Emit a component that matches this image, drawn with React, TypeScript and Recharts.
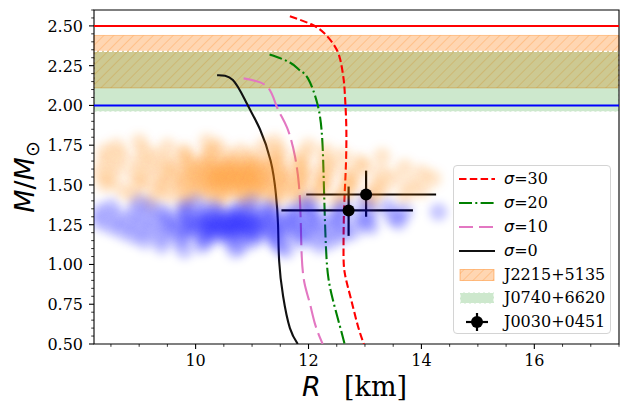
import React from "react";
import {
  ComposedChart,
  XAxis,
  YAxis,
  Line,
  Scatter,
  ErrorBar,
  ReferenceArea,
  ReferenceLine,
} from "recharts";

// axes
const xDomain = [8.2, 17.5];
const yDomain = [0.5, 2.6];
const xMajorTicks = [10, 12, 14, 16];
const xMinorTicks = [8.5, 9, 9.5, 10.5, 11, 11.5, 12.5, 13, 13.5, 14.5, 15, 15.5, 16.5, 17, 17.5];
const yMajorTicks = [0.5, 0.75, 1.0, 1.25, 1.5, 1.75, 2.0, 2.25, 2.5];
const yMinorTicks = [
  0.55, 0.6, 0.65, 0.7, 0.8, 0.85, 0.9, 0.95, 1.05, 1.1, 1.15, 1.2, 1.3, 1.35, 1.4, 1.45,
  1.55, 1.6, 1.65, 1.7, 1.8, 1.85, 1.9, 1.95, 2.05, 2.1, 2.15, 2.2, 2.3, 2.35, 2.4, 2.45, 2.55, 2.6,
];

// mass constraints
const j2215Band = [2.11, 2.44];
const j0740Band = [1.96, 2.34];
const maxMassLines = [2.5, 2.0];

// M-R curves, top (max mass) to bottom
const sigma30 = [
  { r: 11.67, m: 2.56 }, { r: 12.05, m: 2.51 }, { r: 12.29, m: 2.45 }, { r: 12.5, m: 2.35 },
  { r: 12.59, m: 2.24 }, { r: 12.63, m: 2.14 }, { r: 12.65, m: 2.03 }, { r: 12.67, m: 1.85 },
  { r: 12.66, m: 1.6 }, { r: 12.63, m: 1.35 }, { r: 12.62, m: 1.1 }, { r: 12.64, m: 0.95 },
  { r: 12.74, m: 0.8 }, { r: 12.87, m: 0.62 }, { r: 12.98, m: 0.5 },
];
const sigma20 = [
  { r: 11.31, m: 2.32 }, { r: 11.67, m: 2.27 }, { r: 11.85, m: 2.22 }, { r: 11.99, m: 2.17 },
  { r: 12.15, m: 2.02 }, { r: 12.23, m: 1.85 }, { r: 12.26, m: 1.65 }, { r: 12.28, m: 1.4 },
  { r: 12.31, m: 1.1 }, { r: 12.35, m: 0.92 }, { r: 12.43, m: 0.78 }, { r: 12.55, m: 0.62 },
  { r: 12.64, m: 0.5 },
];
const sigma10 = [
  { r: 10.85, m: 2.17 }, { r: 11.26, m: 2.12 }, { r: 11.44, m: 1.99 }, { r: 11.62, m: 1.86 },
  { r: 11.76, m: 1.68 }, { r: 11.83, m: 1.5 }, { r: 11.86, m: 1.3 }, { r: 11.88, m: 1.05 },
  { r: 11.93, m: 0.88 }, { r: 12.02, m: 0.76 }, { r: 12.12, m: 0.62 }, { r: 12.25, m: 0.5 },
];
const sigma0 = [
  { r: 10.38, m: 2.19 }, { r: 10.66, m: 2.16 }, { r: 10.91, m: 2.01 }, { r: 11.14, m: 1.85 },
  { r: 11.33, m: 1.65 }, { r: 11.42, m: 1.45 }, { r: 11.46, m: 1.25 }, { r: 11.48, m: 1.02 },
  { r: 11.55, m: 0.8 }, { r: 11.67, m: 0.6 }, { r: 11.81, m: 0.5 },
];

// J0030+0451 (NICER)
const j0030 = [
  { r: 12.71, m: 1.34, rErr: [1.19, 1.14], mErr: [0.16, 0.15] },
  { r: 13.02, m: 1.44, rErr: [1.06, 1.24], mErr: [0.14, 0.15] },
];

// posterior samples, rows of radii at a given mass
const orangeRows: [number, number[]][] = [
  [1.77, [9.0, 10.2, 11.4]],
  [1.74, [8.6, 9.5, 10.4, 11.2, 12.0]],
  [1.71, [8.4, 9.1, 9.8, 10.3, 10.8, 11.5, 12.3]],
  [1.68, [8.7, 9.3, 9.8, 10.2, 10.6, 11.0, 11.4, 11.9, 12.6, 13.3]],
  [1.645, [8.4, 9.0, 9.5, 9.9, 10.15, 10.4, 10.65, 10.9, 11.15, 11.4, 11.8, 12.3, 12.9]],
  [1.61, [8.6, 9.2, 9.6, 9.9, 10.1, 10.3, 10.45, 10.6, 10.75, 10.9, 11.05, 11.25, 11.5, 11.9, 12.4, 13.0, 13.7]],
  [1.575, [8.3, 8.9, 9.4, 9.75, 10.0, 10.2, 10.35, 10.5, 10.65, 10.8, 10.95, 11.1, 11.3, 11.55, 11.85, 12.2, 12.7, 13.3, 14.0]],
  [1.54, [8.5, 9.1, 9.55, 9.85, 10.05, 10.25, 10.4, 10.55, 10.7, 10.85, 11.0, 11.15, 11.35, 11.6, 11.9, 12.3, 12.8, 13.5, 14.2]],
  [1.505, [8.4, 9.0, 9.4, 9.75, 10.0, 10.2, 10.35, 10.5, 10.65, 10.8, 10.95, 11.1, 11.3, 11.55, 11.85, 12.25, 12.7, 13.2, 13.8]],
  [1.47, [8.7, 9.3, 9.7, 10.0, 10.25, 10.45, 10.65, 10.85, 11.05, 11.25, 11.5, 11.8, 12.2, 12.7, 13.3, 14.0]],
  [1.435, [8.9, 9.5, 9.9, 10.2, 10.5, 10.8, 11.1, 11.4, 11.7, 12.1, 12.6, 13.1, 13.7]],
  [1.4, [9.2, 9.8, 10.4, 10.9, 11.4, 11.9, 12.5, 13.1]],
];
const blueRows: [number, number[]][] = [
  [1.39, [9.0, 10.0, 11.0, 12.0, 13.0]],
  [1.36, [8.5, 9.2, 9.8, 10.3, 10.8, 11.3, 11.9, 12.6, 13.4]],
  [1.33, [8.3, 8.9, 9.4, 9.8, 10.1, 10.4, 10.7, 11.0, 11.3, 11.7, 12.1, 12.6, 13.1, 13.7, 14.3]],
  [1.3, [8.6, 9.1, 9.5, 9.85, 10.1, 10.3, 10.5, 10.65, 10.8, 10.95, 11.15, 11.4, 11.7, 12.0, 12.4, 12.9, 13.5]],
  [1.27, [8.3, 8.8, 9.3, 9.65, 9.9, 10.1, 10.25, 10.4, 10.55, 10.7, 10.85, 11.0, 11.2, 11.45, 11.75, 12.1, 12.5, 13.0, 13.6]],
  [1.24, [8.5, 9.0, 9.5, 9.8, 10.0, 10.2, 10.35, 10.5, 10.65, 10.8, 10.95, 11.1, 11.3, 11.55, 11.85, 12.2, 12.6, 13.1]],
  [1.21, [8.7, 9.2, 9.6, 9.9, 10.15, 10.3, 10.45, 10.6, 10.75, 10.9, 11.1, 11.35, 11.6, 11.95, 12.35, 12.8]],
  [1.18, [8.9, 9.4, 9.8, 10.1, 10.35, 10.6, 10.85, 11.1, 11.4, 11.75, 12.1, 12.6]],
  [1.15, [9.1, 9.7, 10.2, 10.6, 11.0, 11.4, 11.9, 12.4]],
  [1.12, [9.4, 10.1, 10.8, 11.5, 12.2]],
  [1.09, [9.8, 10.7, 11.6]],
];

const orangeCloud = orangeRows.flatMap(([m, rs]) => rs.map((r) => ({ r, m })));
const blueCloud = blueRows.flatMap(([m, rs]) => rs.map((r) => ({ r, m })));

const xTicks = [...xMajorTicks, ...xMinorTicks].sort((a, b) => a - b);
const yTicks = [...yMajorTicks, ...yMinorTicks].sort((a, b) => a - b);

const SERIF = "'DejaVu Serif', serif";
const SANS = "'DejaVu Sans', sans-serif";

const isMajor = (list: number[], v: number) => list.some((t) => Math.abs(t - v) < 1e-6);

const XTick = (props: any) => {
  const { x, y, payload } = props;
  const major = isMajor(xMajorTicks, payload.value);
  return (
    <g>
      <line x1={x} x2={x} y1={y} y2={y + (major ? 5 : 2.8)} stroke="#000" strokeWidth={major ? 1.1 : 0.8} />
      {major && (
        <text x={x} y={y + 22} textAnchor="middle" fontFamily={SERIF} fontSize={16} fill="#000">
          {payload.value}
        </text>
      )}
    </g>
  );
};

const YTick = (props: any) => {
  const { x, y, payload } = props;
  const major = isMajor(yMajorTicks, payload.value);
  return (
    <g>
      <line x1={x - (major ? 5 : 2.8)} x2={x} y1={y} y2={y} stroke="#000" strokeWidth={major ? 1.1 : 0.8} />
      {major && (
        <text x={x - 11} y={y + 6} textAnchor="end" fontFamily={SERIF} fontSize={16} fill="#000">
          {payload.value.toFixed(2)}
        </text>
      )}
    </g>
  );
};

const blob = (color: string, alpha: number) => (p: any) =>
  <circle cx={p.cx} cy={p.cy} r={9} fill={color} fillOpacity={alpha} filter="url(#soft)" />;

const legendRows = [
  { key: "s30", label: "30" },
  { key: "s20", label: "20" },
  { key: "s10", label: "10" },
  { key: "s0", label: "0" },
  { key: "j2215", label: "J2215+5135" },
  { key: "j0740", label: "J0740+6620" },
  { key: "j0030", label: "J0030+0451" },
];

function Handle({ kind }: { kind: string }) {
  const w = 36;
  const h = 22;
  const mid = h / 2;
  let el: React.ReactNode = null;
  if (kind === "s30") el = <line x1={0} x2={w} y1={mid} y2={mid} stroke="#ff0000" strokeWidth={2.1} strokeDasharray="7.5 3.3" />;
  if (kind === "s20") el = <line x1={0} x2={w} y1={mid} y2={mid} stroke="#008000" strokeWidth={2.1} strokeDasharray="13 3.3 2 3.3" />;
  if (kind === "s10") el = <line x1={0} x2={w} y1={mid} y2={mid} stroke="#e377c2" strokeWidth={2.1} strokeDasharray="14 6" />;
  if (kind === "s0") el = <line x1={0} x2={w} y1={mid} y2={mid} stroke="#111" strokeWidth={2.1} />;
  if (kind === "j2215")
    el = (
      <g>
        <rect x={1} y={mid - 5.5} width={w - 2} height={11} fill="#ff7f0e" fillOpacity={0.32} />
        <rect x={1} y={mid - 5.5} width={w - 2} height={11} fill="url(#hatchLegend)" stroke="#ff7f0e" strokeOpacity={0.45} strokeWidth={1} />
      </g>
    );
  if (kind === "j0740")
    el = <rect x={1} y={mid - 5.5} width={w - 2} height={11} fill="#2ca02c" fillOpacity={0.24} stroke="#ffffff" strokeWidth={1.2} strokeDasharray="3 2" />;
  if (kind === "j0030")
    el = (
      <g stroke="#000" strokeWidth={2.2}>
        <line x1={w / 2 - 11} x2={w / 2 + 11} y1={mid} y2={mid} />
        <line x1={w / 2} x2={w / 2} y1={mid - 9} y2={mid + 9} />
        <circle cx={w / 2} cy={mid} r={6} fill="#000" stroke="none" />
      </g>
    );
  return (
    <svg width={w} height={h} style={{ display: "block", overflow: "visible" }}>
      <defs>
        <pattern id="hatchLegend" patternUnits="userSpaceOnUse" width={7} height={7} patternTransform="rotate(45)">
          <line x1={0} y1={0} x2={0} y2={7} stroke="#ff7f0e" strokeOpacity={0.5} strokeWidth={1} />
        </pattern>
      </defs>
      {el}
    </svg>
  );
}

function ChartLegend() {
  return (
    <div
      style={{
        position: "absolute",
        left: 453,
        top: 165,
        width: 158,
        height: 169,
        boxSizing: "border-box",
        border: "1px solid #d4d4d4",
        borderRadius: 4,
        background: "rgba(255,255,255,0.8)",
        paddingTop: 1,
      }}
    >
      {legendRows.map((row) => (
        <div key={row.key} style={{ display: "flex", alignItems: "center", height: 23.9, paddingLeft: 5 }}>
          <Handle kind={row.key} />
          <span style={{ marginLeft: 9, fontFamily: SERIF, fontSize: 16, color: "#000", whiteSpace: "pre", lineHeight: "16px" }}>
            {row.key.startsWith("s") ? (
              <>
                <span style={{ fontFamily: SANS, fontStyle: "italic" }}>σ</span>={row.label}
              </>
            ) : (
              row.label
            )}
          </span>
        </div>
      ))}
    </div>
  );
}

export default function App() {
  return (
    <div style={{ position: "absolute", left: 0, top: 0, width: 621, height: 401, background: "#fff" }}>
      <ComposedChart width={621} height={401} margin={{ top: 10, right: 2, bottom: 0, left: 0 }}>
        <defs>
          <pattern id="hatch" patternUnits="userSpaceOnUse" width={7} height={7} patternTransform="rotate(45)">
            <line x1={0} y1={0} x2={0} y2={7} stroke="#ff7f0e" strokeOpacity={0.5} strokeWidth={1} />
          </pattern>
          <filter id="soft" x="-100%" y="-100%" width="300%" height="300%">
            <feGaussianBlur stdDeviation={4.5} />
          </filter>
        </defs>
        <XAxis
          type="number"
          dataKey="r"
          domain={xDomain}
          allowDataOverflow
          ticks={xTicks}
          interval={0}
          height={57}
          tickSize={0}
          tickMargin={0}
          axisLine={false}
          tickLine={false}
          tick={<XTick />}
        />
        <YAxis
          type="number"
          dataKey="m"
          domain={yDomain}
          allowDataOverflow
          ticks={yTicks}
          interval={0}
          width={94}
          tickSize={0}
          tickMargin={0}
          axisLine={false}
          tickLine={false}
          tick={<YTick />}
        />
        <ReferenceArea x1={xDomain[0]} x2={xDomain[1]} y1={j2215Band[0]} y2={j2215Band[1]} fill="#ff7f0e" fillOpacity={0.32} stroke="none" />
        <ReferenceArea x1={xDomain[0]} x2={xDomain[1]} y1={j2215Band[0]} y2={j2215Band[1]} fill="url(#hatch)" fillOpacity={1} stroke="#ff7f0e" strokeOpacity={0.4} />
        <ReferenceArea x1={xDomain[0]} x2={xDomain[1]} y1={j0740Band[0]} y2={j0740Band[1]} fill="#2ca02c" fillOpacity={0.24} stroke="#ffffff" strokeWidth={1.2} strokeDasharray="3 2" />
        <ReferenceLine y={maxMassLines[0]} stroke="#ff0000" strokeWidth={2} />
        <ReferenceLine y={maxMassLines[1]} stroke="#0000ff" strokeWidth={2} />
        <Scatter data={orangeCloud} fill="#ff7f0e" shape={blob("#ff8510", 0.2)} isAnimationActive={false} />
        <Scatter data={blueCloud} fill="#0000ff" shape={blob("#0a0aff", 0.22)} isAnimationActive={false} />
        <Line data={sigma30} dataKey="m" type="natural" stroke="#ff0000" strokeWidth={2.1} strokeDasharray="7.5 3.3" dot={false} activeDot={false} isAnimationActive={false} />
        <Line data={sigma20} dataKey="m" type="natural" stroke="#008000" strokeWidth={2.1} strokeDasharray="13 3.3 2 3.3" dot={false} activeDot={false} isAnimationActive={false} />
        <Line data={sigma10} dataKey="m" type="natural" stroke="#e377c2" strokeWidth={2.1} strokeDasharray="22 6" dot={false} activeDot={false} isAnimationActive={false} />
        <Line data={sigma0} dataKey="m" type="natural" stroke="#111111" strokeWidth={2.1} dot={false} activeDot={false} isAnimationActive={false} />
        <Scatter data={j0030} fill="#000" shape={(p: any) => <circle cx={p.cx} cy={p.cy} r={6} fill="#000" />} isAnimationActive={false}>
          <ErrorBar dataKey="rErr" direction="x" width={0} stroke="#000" strokeWidth={2.2} />
          <ErrorBar dataKey="mErr" direction="y" width={0} stroke="#000" strokeWidth={2.2} />
        </Scatter>
        <ReferenceArea x1={xDomain[0]} x2={xDomain[1]} y1={yDomain[0]} y2={yDomain[1]} fill="none" stroke="#000" strokeWidth={1.1} />
      </ComposedChart>
      <svg width={621} height={401} style={{ position: "absolute", left: 0, top: 0, pointerEvents: "none" }}>
        <text x={302} y={396} fontSize={27} fill="#000">
          <tspan fontFamily={SANS} fontStyle="italic">R</tspan>
          <tspan x={344} fontFamily={SERIF}>[km]</tspan>
        </text>
        <text transform="translate(34,177) rotate(-90)" textAnchor="middle" fontSize={27} fontFamily={SANS} fill="#000">
          <tspan fontStyle="italic">M</tspan>
          <tspan>/</tspan>
          <tspan fontStyle="italic">M</tspan>
          <tspan fontSize={19} dy={5}>⊙</tspan>
        </text>
      </svg>
      <ChartLegend />
    </div>
  );
}
